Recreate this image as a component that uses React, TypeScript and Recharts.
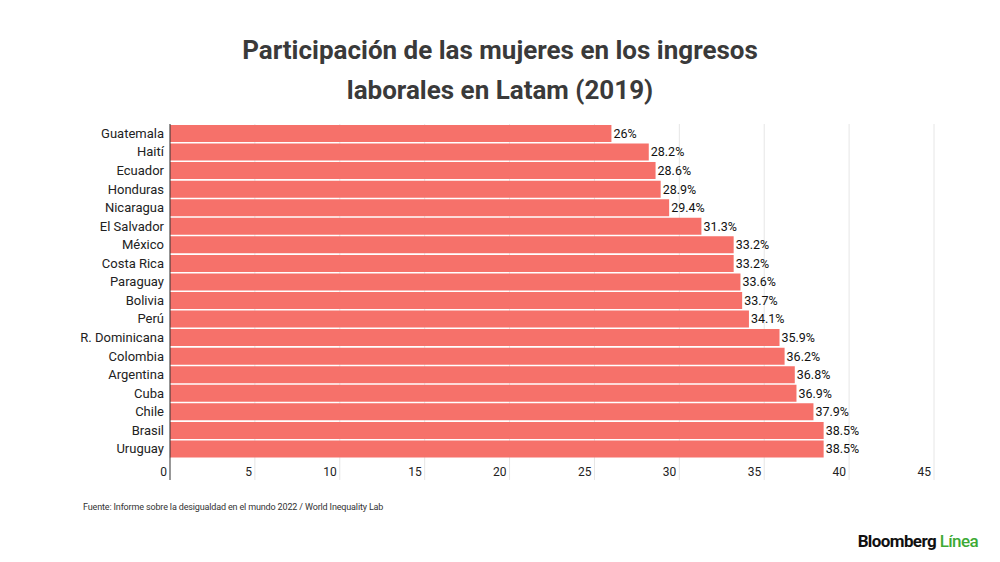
import { BarChart, Bar, XAxis, YAxis, CartesianGrid, LabelList } from "recharts";

const countries = [
  "Guatemala",
  "Haití",
  "Ecuador",
  "Honduras",
  "Nicaragua",
  "El Salvador",
  "México",
  "Costa Rica",
  "Paraguay",
  "Bolivia",
  "Perú",
  "R. Dominicana",
  "Colombia",
  "Argentina",
  "Cuba",
  "Chile",
  "Brasil",
  "Uruguay",
];

const shares = [26, 28.2, 28.6, 28.9, 29.4, 31.3, 33.2, 33.2, 33.6, 33.7, 34.1, 35.9, 36.2, 36.8, 36.9, 37.9, 38.5, 38.5];

const xTicks = [0, 5, 10, 15, 20, 25, 30, 35, 40, 45];

const data = countries.map((name, i) => ({ name, value: shares[i] }));

const FONT = "Roboto, 'Noto Sans', sans-serif";
const BAR_COLOR = "#F6716A";

// tick for the value axis: label plus the part of the gridline that runs below the bars
function XTick(props: any) {
  const { x, y, payload } = props;
  const isZero = payload.value === 0;
  return (
    <g>
      <line
        x1={x}
        x2={x}
        y1={y - 12}
        y2={y + 10}
        stroke={isZero ? "#333" : "#e6e6e6"}
        strokeWidth={1}
      />
      <text x={x - 3} y={y + 6} textAnchor="end" fontSize={12} fill="#222" fontFamily={FONT}>
        {payload.value}
      </text>
    </g>
  );
}

export default function App() {
  return (
    <div
      style={{
        position: "fixed",
        left: 0,
        top: 0,
        width: 1000,
        height: 562,
        background: "#fff",
        fontFamily: FONT,
      }}
    >
      <div
        style={{
          position: "absolute",
          top: 30,
          left: 0,
          width: 1000,
          textAlign: "center",
          fontSize: 26,
          fontWeight: 700,
          lineHeight: "40px",
          color: "#3a3a3a",
        }}
      >
        Participación de las mujeres en los ingresos
        <br />
        laborales en Latam (2019)
      </div>

      <BarChart
        width={1000}
        height={562}
        data={data}
        layout="vertical"
        margin={{ top: 124, right: 66, bottom: 74, left: 0 }}
        barCategoryGap={1}
      >
        <CartesianGrid horizontal={false} stroke="#e6e6e6" />
        <XAxis
          type="number"
          domain={[0, 45]}
          ticks={xTicks}
          interval={0}
          axisLine={false}
          tickLine={false}
          tickSize={0}
          tickMargin={12}
          tick={<XTick />}
        />
        <YAxis
          type="category"
          dataKey="name"
          width={170}
          axisLine={{ stroke: "#333" }}
          tickLine={false}
          tickSize={0}
          tickMargin={6}
          tick={{ fontSize: 13, fill: "#222", fontFamily: FONT }}
          interval={0}
        />
        <Bar dataKey="value" fill={BAR_COLOR} isAnimationActive={false}>
          <LabelList
            dataKey="value"
            position="right"
            offset={2}
            formatter={(v: any) => `${v}%`}
            style={{ fontSize: 12.5, fill: "#111", fontFamily: FONT }}
          />
        </Bar>
      </BarChart>

      <div
        style={{
          position: "absolute",
          left: 83,
          top: 502,
          fontSize: 9,
          color: "#333",
          letterSpacing: -0.15,
        }}
      >
        Fuente: Informe sobre la desigualdad en el mundo 2022 / World Inequality Lab
      </div>

      <div
        style={{
          position: "absolute",
          right: 22,
          top: 531,
          fontSize: 17,
          fontWeight: 700,
          letterSpacing: -0.6,
          color: "#111",
        }}
      >
        Bloomberg <span style={{ color: "#3DAA35", fontWeight: 500 }}>Línea</span>
      </div>
    </div>
  );
}
